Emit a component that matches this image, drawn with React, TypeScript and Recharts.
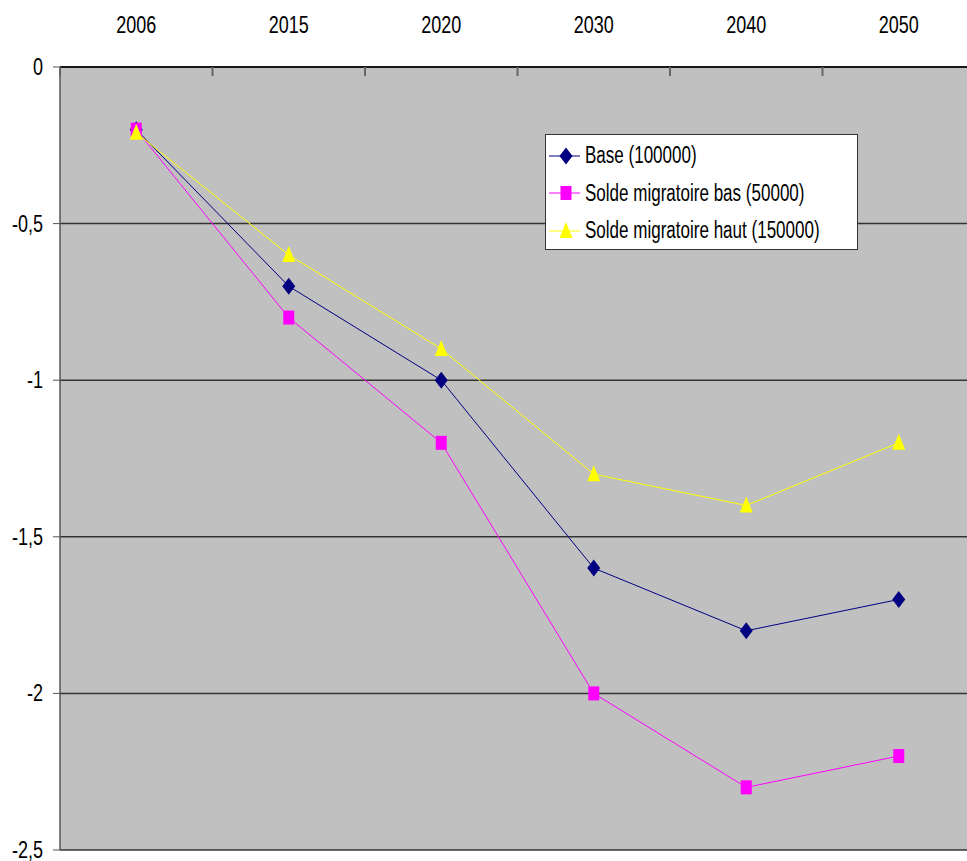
import { CartesianGrid, Line, LineChart, XAxis, YAxis } from "recharts";

const years = ["2006", "2015", "2020", "2030", "2040", "2050"];
const base = [-0.2, -0.7, -1.0, -1.6, -1.8, -1.7];
const soldeBas = [-0.2, -0.8, -1.2, -2.0, -2.3, -2.2];
const soldeHaut = [-0.21, -0.6, -0.9, -1.3, -1.4, -1.2];
const yTicks = [0, -0.5, -1, -1.5, -2, -2.5];

const series = [
  { key: "base", name: "Base (100000)", color: "#000080", shape: "diamond" },
  { key: "bas", name: "Solde migratoire bas (50000)", color: "#FF00FF", shape: "square" },
  { key: "haut", name: "Solde migratoire haut (150000)", color: "#FFFF00", shape: "triangle" },
];

const data = years.map((year, i) => ({
  year,
  base: base[i],
  bas: soldeBas[i],
  haut: soldeHaut[i],
}));

const FONT = "'Liberation Sans', Arial, sans-serif";
const SQUEEZE = 0.75; // the original text is horizontally narrow
const CHART_W = 975;
const CHART_H = 861;
const Y_AXIS_W = 60;
const HALF_BAND = (CHART_W - Y_AXIS_W) / years.length / 2;

const Marker = ({ cx, cy, shape, color }: any) => {
  if (cx == null || cy == null) return null;
  if (shape === "diamond") {
    return (
      <polygon
        points={`${cx},${cy - 8.5} ${cx + 6.5},${cy} ${cx},${cy + 8.5} ${cx - 6.5},${cy}`}
        fill={color}
      />
    );
  }
  if (shape === "square") {
    return <rect x={cx - 5.5} y={cy - 7} width={11} height={14} fill={color} />;
  }
  return (
    <polygon
      points={`${cx},${cy - 9} ${cx + 6.5},${cy + 7} ${cx - 6.5},${cy + 7}`}
      fill={color}
    />
  );
};

const XTick = ({ x, payload }: any) => (
  <g>
    <text
      transform={`translate(${x},33) scale(${SQUEEZE},1)`}
      textAnchor="middle"
      fontFamily={FONT}
      fontSize={24}
      fill="#000"
    >
      {payload.value}
    </text>
    <line x1={x - HALF_BAND} x2={x - HALF_BAND} y1={67} y2={76} stroke="#666" strokeWidth={2} />
  </g>
);

const YTick = ({ y, payload }: any) => (
  <text
    transform={`translate(43,${y + 8}) scale(${SQUEEZE},1)`}
    textAnchor="end"
    fontFamily={FONT}
    fontSize={24}
    fill="#000"
  >
    {String(payload.value).replace(".", ",")}
  </text>
);

const LegendBox = () => (
  <div
    style={{
      position: "absolute",
      left: 545,
      top: 134,
      width: 311,
      height: 114,
      background: "#fff",
      border: "1px solid #333",
      fontFamily: FONT,
      fontSize: 23,
      color: "#000",
    }}
  >
    {series.map((s, i) => (
      <div
        key={s.key}
        style={{
          position: "absolute",
          left: 0,
          top: 2 + i * 37.5,
          height: 37,
          display: "flex",
          alignItems: "center",
          whiteSpace: "nowrap",
        }}
      >
        <svg width={34} height={20} style={{ marginLeft: 3, marginRight: 2, flex: "none" }}>
          <line x1={0} x2={31} y1={10} y2={10} stroke={s.color} strokeWidth={1} />
          <Marker cx={17} cy={10} shape={s.shape} color={s.color} />
        </svg>
        <span
          style={{
            display: "inline-block",
            transform: "scaleX(0.74)",
            transformOrigin: "left center",
          }}
        >
          {s.name}
        </span>
      </div>
    ))}
  </div>
);

export default function App() {
  return (
    <div
      style={{
        position: "absolute",
        left: 0,
        top: 0,
        width: 967,
        height: 861,
        overflow: "hidden",
        background: "#fff",
      }}
    >
      <LineChart
        width={CHART_W}
        height={CHART_H}
        data={data}
        margin={{ top: 0, right: 0, bottom: 11, left: 0 }}
      >
        <CartesianGrid
          vertical={false}
          fill="#C0C0C0"
          fillOpacity={1}
          stroke="#333"
          strokeWidth={1.5}
          horizontalValues={yTicks}
        />
        <XAxis
          dataKey="year"
          orientation="top"
          height={67}
          padding={{ left: HALF_BAND, right: HALF_BAND }}
          axisLine={{ stroke: "#000", strokeWidth: 1.5 }}
          tickLine={false}
          tick={<XTick />}
          interval={0}
        />
        <YAxis
          type="number"
          domain={[-2.5, 0]}
          ticks={yTicks}
          width={Y_AXIS_W}
          axisLine={{ stroke: "#555", strokeWidth: 1.5 }}
          tickLine={{ stroke: "#555" }}
          tickSize={7}
          tick={<YTick />}
          interval={0}
        />
        {series.map((s) => (
          <Line
            key={s.key}
            dataKey={s.key}
            name={s.name}
            type="linear"
            stroke={s.color}
            strokeWidth={1}
            isAnimationActive={false}
            dot={(props: any) => (
              <Marker key={`${s.key}-${props.index}`} cx={props.cx} cy={props.cy} shape={s.shape} color={s.color} />
            )}
            activeDot={false}
          />
        ))}
      </LineChart>
      <LegendBox />
    </div>
  );
}
